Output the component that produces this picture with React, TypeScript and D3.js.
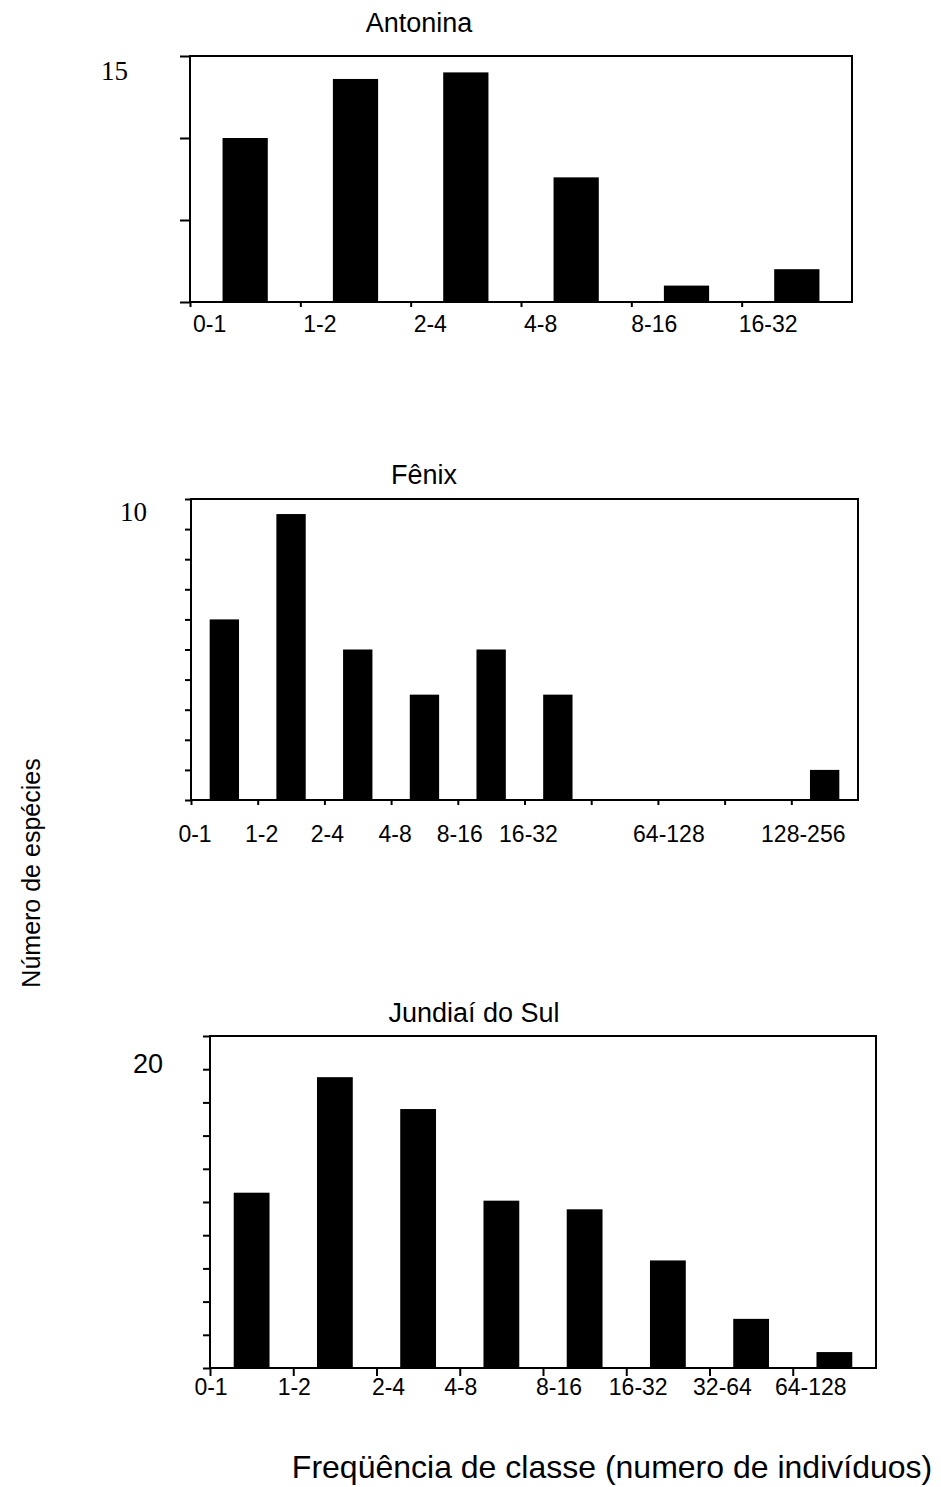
import * as d3 from 'd3';
import { useEffect, useRef } from 'react';

// Antonina
const antoninaCategories = ['0-1', '1-2', '2-4', '4-8', '8-16', '16-32'];
const antoninaValues = [10, 13.6, 14, 7.6, 1, 2];
const antoninaTickLabels = ['0-1', '1-2', '2-4', '4-8', '8-16', '16-32'];

// Fênix (ten classes, two labels skipped on the axis)
const fenixCategories = ['0-1', '1-2', '2-4', '4-8', '8-16', '16-32', '32-64', '64-128', '128-256', '256-512'];
const fenixValues = [6, 9.5, 5, 3.5, 5, 3.5, 0, 0, 0, 1];
const fenixTickLabels = ['0-1', '1-2', '2-4', '4-8', '8-16', '16-32', '', '64-128', '', '128-256'];

// Jundiaí do Sul
const jundiaiCategories = ['0-1', '1-2', '2-4', '4-8', '8-16', '16-32', '32-64', '64-128'];
const jundiaiValues = [13.2, 21.9, 19.5, 12.6, 11.95, 8.1, 3.7, 1.2];
const jundiaiTickLabels = ['0-1', '1-2', '2-4', '4-8', '8-16', '16-32', '32-64', '64-128'];

const panels = [
    {
        title: 'Antonina', titleX: 419, titleY: 32,
        categories: antoninaCategories, values: antoninaValues, tickLabels: antoninaTickLabels,
        x0: 190, x1: 852, yTop: 56, yBottom: 302, yMax: 15, yStep: 5, yTickSize: 10,
        xTickCount: 6, xTickSize: 5, pad: 0.59,
        labelAnchor: 'start', labelNudge: [3, 3, 3, 3, 0, -3], labelY: 332,
        maxLabel: '15', maxFont: '"Liberation Serif", "Times New Roman", serif', maxX: 128, maxY: 80,
    },
    {
        title: 'Fênix', titleX: 424, titleY: 484,
        categories: fenixCategories, values: fenixValues, tickLabels: fenixTickLabels,
        x0: 191, x1: 858, yTop: 499, yBottom: 800, yMax: 10, yStep: 1, yTickSize: 6,
        xTickCount: 10, xTickSize: 5, pad: 0.56,
        labelAnchor: 'middle', labelNudge: [4, 4, 3, 4, 2, 4, 0, 11, 0, 12], labelY: 842,
        maxLabel: '10', maxFont: '"Liberation Serif", "Times New Roman", serif', maxX: 147, maxY: 521,
    },
    {
        title: 'Jundiaí do Sul', titleX: 474, titleY: 1022,
        categories: jundiaiCategories, values: jundiaiValues, tickLabels: jundiaiTickLabels,
        x0: 210, x1: 876, yTop: 1036, yBottom: 1368, yMax: 25, yStep: 2.5, yTickSize: 7,
        xTickCount: 8, xTickSize: 8, pad: 0.57,
        labelAnchor: 'middle', labelNudge: [1, 1, 12, 1, 16, 12, 13, 18], labelY: 1395,
        maxLabel: '20', maxFont: '"Liberation Sans", Arial, sans-serif', maxX: 163, maxY: 1073,
    },
];

const sans = '"Liberation Sans", Arial, sans-serif';

const App = () => {
    const ref = useRef(null);

    useEffect(() => {
        const svg = d3.select(ref.current);
        svg.selectAll('*').remove();

        svg.append('rect').attr('width', 941).attr('height', 1487).attr('fill', 'white');

        panels.forEach((p) => {
            const g = svg.append('g');

            const x = d3.scaleBand()
                .domain(p.categories)
                .range([p.x0, p.x1])
                .paddingInner(p.pad)
                .paddingOuter(p.pad / 2);

            // class boundaries for the ticks
            const xb = d3.scaleLinear().domain([0, p.categories.length]).range([p.x0, p.x1]);

            const y = d3.scaleLinear().domain([0, p.yMax]).range([p.yBottom, p.yTop]);

            // Bars
            g.selectAll('.bar')
                .data(p.categories.map((c, i) => ({ c, v: p.values[i] })).filter((d) => d.v > 0))
                .enter()
                .append('rect')
                .attr('x', (d) => x(d.c))
                .attr('y', (d) => y(d.v))
                .attr('width', x.bandwidth())
                .attr('height', (d) => p.yBottom - y(d.v))
                .attr('fill', 'black');

            // Y axis ticks
            const yTicks = d3.range(0, p.yMax + 0.001, p.yStep);
            const yAxis = g.append('g')
                .attr('transform', `translate(${p.x0},0)`)
                .call(d3.axisLeft(y).tickValues(yTicks).tickSize(p.yTickSize).tickFormat(() => ''));
            yAxis.select('.domain').remove();
            yAxis.selectAll('line').attr('stroke', 'black').attr('stroke-width', 2);

            // X axis ticks
            const xTicks = d3.range(0, p.xTickCount);
            const xAxis = g.append('g')
                .attr('transform', `translate(0,${p.yBottom})`)
                .call(d3.axisBottom(xb).tickValues(xTicks).tickSize(p.xTickSize).tickFormat(() => ''));
            xAxis.select('.domain').remove();
            xAxis.selectAll('line').attr('stroke', 'black').attr('stroke-width', 2);

            // X labels
            g.selectAll('.xlabel')
                .data(p.tickLabels.map((t, i) => ({ t, i })).filter((d) => d.t))
                .enter()
                .append('text')
                .attr('x', (d) => xb(d.i) + p.labelNudge[d.i])
                .attr('y', p.labelY)
                .attr('text-anchor', p.labelAnchor)
                .style('font-family', sans)
                .style('font-size', '23px')
                .text((d) => d.t);

            // Frame
            g.append('rect')
                .attr('x', p.x0)
                .attr('y', p.yTop)
                .attr('width', p.x1 - p.x0)
                .attr('height', p.yBottom - p.yTop)
                .attr('fill', 'none')
                .attr('stroke', 'black')
                .attr('stroke-width', 2);

            // Max value label
            g.append('text')
                .attr('x', p.maxX)
                .attr('y', p.maxY)
                .attr('text-anchor', 'end')
                .style('font-family', p.maxFont)
                .style('font-size', '27px')
                .text(p.maxLabel);

            // Title
            g.append('text')
                .attr('x', p.titleX)
                .attr('y', p.titleY)
                .attr('text-anchor', 'middle')
                .style('font-family', sans)
                .style('font-size', '27px')
                .text(p.title);
        });

        // Axis titles
        svg.append('text')
            .attr('transform', 'translate(40,873) rotate(-90)')
            .attr('text-anchor', 'middle')
            .style('font-family', sans)
            .style('font-size', '25px')
            .text('Número de espécies');

        svg.append('text')
            .attr('x', 612)
            .attr('y', 1478)
            .attr('text-anchor', 'middle')
            .style('font-family', sans)
            .style('font-size', '32px')
            .text('Freqüência de classe (numero de indivíduos)');
    }, []);

    return (
        <svg
            ref={ref}
            width={941}
            height={1487}
            style={{ position: 'absolute', left: 0, top: 0 }}
        />
    );
};

export default App;
